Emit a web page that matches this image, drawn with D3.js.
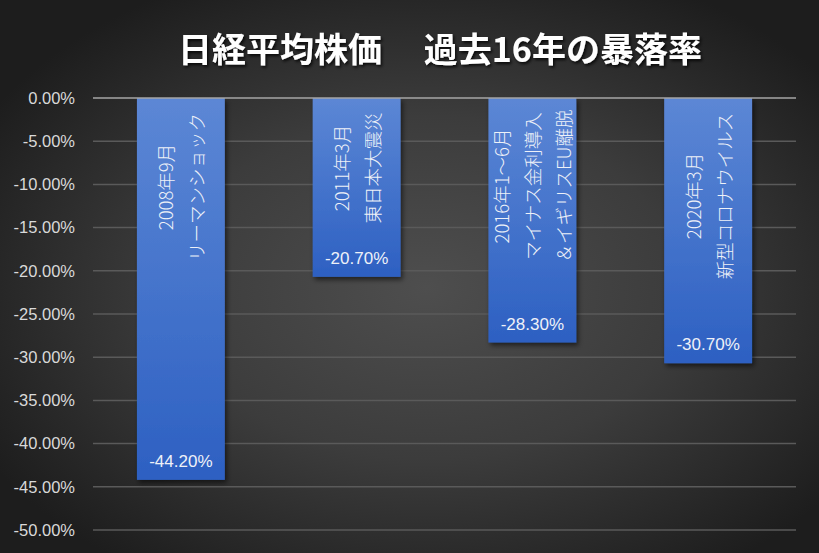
<!DOCTYPE html>
<html><head><meta charset="utf-8">
<script src="https://cdn.jsdelivr.net/npm/d3@7"></script>
<style>
html,body{margin:0;padding:0;background:#2a2a2a;}
svg{display:block;}
</style></head>
<body>
<svg id="chart" width="819" height="553"></svg>
<script>
// ---- data ----
const periods = ["2008年9月", "2011年3月", "2016年1～6月", "2020年3月"];
const events = [["リーマンショック"], ["東日本大震災"], ["マイナス金利導入", "＆イギリスEU離脱"], ["新型コロナウイルス"]];
const drops = [-44.2, -20.7, -28.3, -30.7];
const yTicks = [0, -5, -10, -15, -20, -25, -30, -35, -40, -45, -50];
const title = "日経平均株価\u3000 過去16年の暴落率";

// ---- layout ----
const W = 819, H = 553;
const plot = {left: 93, right: 796, top: 98, bottom: 530};
const labelMid = [187, 168, 186, 196]; // vertical centre of rotated labels (px)
const pct = d => d3.format(".2f")(d).replace("\u2212", "-") + "%";

const svg = d3.select("#chart");
const defs = svg.append("defs");

const bg = defs.append("radialGradient").attr("id", "bg")
  .attr("cx", "52%").attr("cy", "52%").attr("r", "62%");
bg.append("stop").attr("offset", "0%").attr("stop-color", "#4e4e4e");
bg.append("stop").attr("offset", "50%").attr("stop-color", "#3c3c3c");
bg.append("stop").attr("offset", "100%").attr("stop-color", "#1d1d1d");

const bar = defs.append("linearGradient").attr("id", "barg")
  .attr("x1", 0).attr("y1", 0).attr("x2", 0).attr("y2", 1);
bar.append("stop").attr("offset", "0%").attr("stop-color", "#5c87d5");
bar.append("stop").attr("offset", "100%").attr("stop-color", "#2d60c2");

const sh = defs.append("filter").attr("id", "shadow")
  .attr("x", "-20%").attr("y", "-20%").attr("width", "150%").attr("height", "150%");
sh.append("feDropShadow").attr("dx", 2).attr("dy", 3).attr("stdDeviation", 2.5)
  .attr("flood-color", "#000").attr("flood-opacity", 0.55);

const tsh = defs.append("filter").attr("id", "tshadow")
  .attr("x", "-10%").attr("y", "-30%").attr("width", "130%").attr("height", "170%");
tsh.append("feDropShadow").attr("dx", 1.5).attr("dy", 2).attr("stdDeviation", 1.5)
  .attr("flood-color", "#000").attr("flood-opacity", 0.8);

svg.append("rect").attr("width", W).attr("height", H).attr("fill", "url(#bg)");

const x = d3.scaleBand().domain(periods).range([plot.left, plot.right])
  .paddingInner(0.5).paddingOuter(0.25);
const y = d3.scaleLinear().domain([0, -50]).range([plot.top, plot.bottom]);

// gridlines
svg.append("g").selectAll("line").data(yTicks.filter(d => d !== 0)).join("line")
  .attr("x1", plot.left).attr("x2", plot.right)
  .attr("y1", d => y(d)).attr("y2", d => y(d))
  .attr("stroke", "#5a5a5a").attr("stroke-width", 1.5);

// y axis labels
const yAxis = d3.axisLeft(y).tickValues(yTicks).tickSize(0).tickPadding(0)
  .tickFormat(pct);
const ya = svg.append("g").attr("transform", `translate(${plot.left - 18},0)`).call(yAxis);
ya.select(".domain").remove();
ya.selectAll("text").attr("fill", "#d9d9d9")
  .style("font-family", "'Liberation Sans', Arial, sans-serif").style("font-size", "16.5px");

// bars
svg.append("g").selectAll("rect").data(drops).join("rect")
  .attr("x", (d, i) => x(periods[i]))
  .attr("y", y(0))
  .attr("width", x.bandwidth())
  .attr("height", d => y(d) - y(0))
  .attr("fill", "url(#barg)")
  .attr("filter", "url(#shadow)");

// zero line
svg.append("line").attr("x1", plot.left).attr("x2", plot.right)
  .attr("y1", y(0)).attr("y2", y(0)).attr("stroke", "#a6a6a6").attr("stroke-width", 1.5);

// value labels
svg.append("g").selectAll("text").data(drops).join("text")
  .attr("x", (d, i) => x(periods[i]) + x.bandwidth() / 2)
  .attr("y", d => y(d) - 13)
  .attr("text-anchor", "middle")
  .attr("fill", "#eef1f8")
  .style("font-family", "'Liberation Sans', Arial, sans-serif").style("font-size", "17px")
  .text(pct);

// rotated category labels
const lineGap = 31;
periods.forEach((p, i) => {
  const lines = [p].concat(events[i]);
  const cx = x(p) + x.bandwidth() / 2;
  lines.forEach((t, j) => {
    const lx = cx + (j - (lines.length - 1) / 2) * lineGap;
    svg.append("text")
      .attr("transform", `translate(${lx},${labelMid[i]}) rotate(-90)`)
      .attr("text-anchor", "middle")
      .attr("dominant-baseline", "central")
      .attr("fill", "#eef1f8")
      .style("font-family", "'Noto Sans CJK JP', sans-serif")
      .style("font-size", "18.5px")
      .style("font-weight", 300)
      .text(t);
  });
});

// title
svg.append("text").attr("x", 440).attr("y", 47)
  .attr("text-anchor", "middle").attr("dominant-baseline", "central")
  .attr("fill", "#ffffff").attr("filter", "url(#tshadow)")
  .style("font-family", "'Noto Sans CJK JP', sans-serif")
  .style("font-size", "34px").style("font-weight", 700)
  .text(title);
</script>
</body></html>
